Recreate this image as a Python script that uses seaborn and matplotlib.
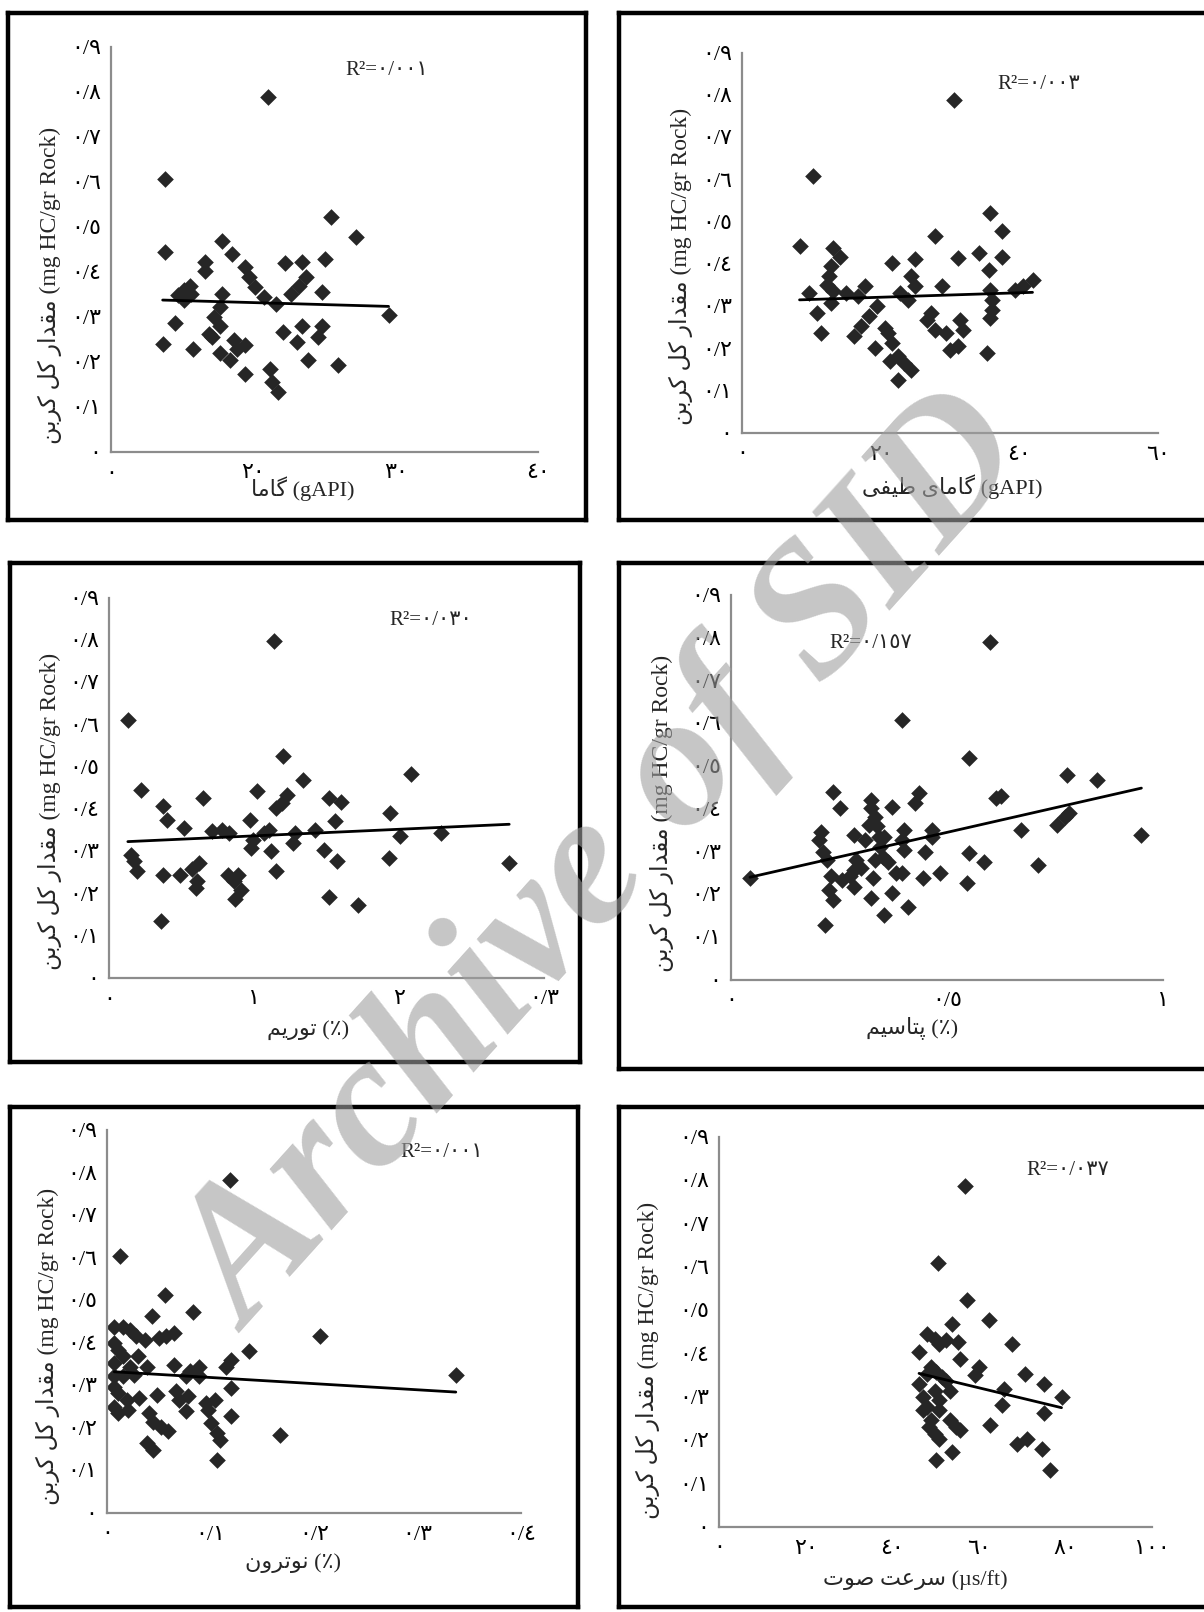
import matplotlib
matplotlib.use('Agg')
import matplotlib.pyplot as plt
import seaborn as sns

sns.set_style('white')
plt.rcParams['font.family'] = ['Liberation Serif', 'DejaVu Sans']

# ---- data (y = total carbon, mg HC/gr Rock) ----
gamma_x = [21.03, 13.77, 13.77, 13.63, 14.52, 15.78, 14.71, 15.11, 15.52, 15.65, 15.11, 16.59, 16.59,
           17.80, 18.47, 19.42, 19.68, 20.09, 20.76, 21.57, 17.80, 17.67, 17.26, 17.67, 17.13, 17.67,
           18.34, 18.61, 19.42, 19.42, 21.16, 21.30, 21.70, 22.10, 22.24, 23.45, 23.72, 23.18, 22.64,
           23.45, 23.05, 23.85, 24.79, 24.53, 24.79, 25.01, 25.47, 27.22, 25.92, 29.50, 16.86, 18.88]
gamma_toc = [0.789, 0.607, 0.444, 0.241, 0.287, 0.230, 0.348, 0.359, 0.370, 0.352, 0.337, 0.422, 0.402,
             0.470, 0.441, 0.411, 0.389, 0.367, 0.344, 0.330, 0.352, 0.322, 0.300, 0.281, 0.256, 0.219,
             0.204, 0.248, 0.237, 0.174, 0.185, 0.156, 0.133, 0.267, 0.419, 0.422, 0.389, 0.370, 0.352,
             0.281, 0.244, 0.204, 0.281, 0.256, 0.356, 0.430, 0.522, 0.478, 0.193, 0.304, 0.263, 0.230]

sgr_x = [30.6, 10.2, 8.3, 13.1, 14.2, 12.8, 12.5, 12.2, 13.1, 12.8, 9.7, 10.8, 11.4, 21.7, 25.0, 24.4,
         25.0, 23.9, 17.8, 16.7, 19.4, 18.3, 17.2, 16.1, 19.2, 20.6, 21.7, 22.5, 21.4, 23.3, 24.4, 22.5,
         21.1, 27.8, 28.9, 26.7, 27.8, 29.4, 31.1, 30.0, 31.4, 31.9, 31.1, 34.2, 35.8, 37.5, 37.5, 35.6,
         35.8, 36.1, 36.1, 35.8, 35.3, 41.9, 40.6, 39.4, 15.0, 22.8, 27.2]
sgr_toc = [0.789, 0.608, 0.442, 0.438, 0.418, 0.395, 0.371, 0.351, 0.336, 0.308, 0.332, 0.284, 0.237,
           0.403, 0.411, 0.371, 0.347, 0.316, 0.347, 0.324, 0.300, 0.276, 0.253, 0.229, 0.201, 0.249,
           0.213, 0.182, 0.170, 0.166, 0.150, 0.126, 0.237, 0.466, 0.347, 0.268, 0.245, 0.237, 0.205,
           0.197, 0.268, 0.245, 0.414, 0.426, 0.521, 0.478, 0.418, 0.387, 0.339, 0.316, 0.292, 0.272,
           0.189, 0.363, 0.347, 0.339, 0.332, 0.332, 0.284]

thorium_x = [1.14, 0.13, 1.20, 0.22, 1.34, 1.02, 0.65, 1.23, 1.19, 1.15, 1.52, 1.60, 2.08, 0.37, 0.40,
             0.52, 0.71, 0.78, 0.83, 0.97, 1.10, 0.99, 0.98, 1.12, 1.28, 1.27, 1.42, 1.56, 1.48, 1.57,
             1.94, 2.01, 2.29, 1.93, 2.76, 0.15, 0.17, 0.19, 0.37, 0.49, 0.57, 0.62, 0.61, 0.60, 0.82,
             0.89, 0.86, 0.91, 0.87, 1.15, 1.52, 1.72, 0.36, 1.07]
thorium_toc = [0.797, 0.612, 0.525, 0.446, 0.470, 0.442, 0.426, 0.434, 0.414, 0.403, 0.426, 0.418, 0.482,
               0.407, 0.375, 0.355, 0.347, 0.351, 0.343, 0.375, 0.351, 0.328, 0.308, 0.300, 0.343, 0.320,
               0.351, 0.371, 0.304, 0.276, 0.391, 0.336, 0.343, 0.284, 0.272, 0.292, 0.276, 0.253, 0.245,
               0.245, 0.257, 0.272, 0.229, 0.213, 0.245, 0.245, 0.229, 0.209, 0.186, 0.253, 0.193, 0.174,
               0.134, 0.343]

potassium_x = [0.599, 0.395, 0.551, 0.777, 0.848, 0.950, 0.044, 0.235, 0.253, 0.209, 0.204, 0.213, 0.222,
               0.231, 0.226, 0.235, 0.218, 0.258, 0.275, 0.284, 0.289, 0.302, 0.284, 0.311, 0.324, 0.324,
               0.333, 0.337, 0.342, 0.346, 0.333, 0.351, 0.364, 0.373, 0.400, 0.395, 0.400, 0.395, 0.382,
               0.329, 0.324, 0.373, 0.355, 0.409, 0.435, 0.426, 0.448, 0.466, 0.444, 0.484, 0.551, 0.586,
               0.546, 0.613, 0.626, 0.671, 0.710, 0.755, 0.773, 0.782, 0.466, 0.320, 0.355, 0.284]
potassium_toc = [0.791, 0.608, 0.518, 0.479, 0.468, 0.339, 0.238, 0.440, 0.401, 0.347, 0.327, 0.300, 0.281,
                 0.242, 0.210, 0.187, 0.129, 0.234, 0.242, 0.257, 0.281, 0.261, 0.339, 0.327, 0.421, 0.401,
                 0.382, 0.359, 0.335, 0.312, 0.281, 0.288, 0.277, 0.405, 0.351, 0.327, 0.304, 0.249, 0.249,
                 0.238, 0.191, 0.203, 0.152, 0.171, 0.436, 0.413, 0.300, 0.351, 0.238, 0.249, 0.296, 0.277,
                 0.226, 0.425, 0.429, 0.351, 0.269, 0.362, 0.382, 0.390, 0.335, 0.362, 0.335, 0.218]

neutron_x = [0.119, 0.013, 0.056, 0.083, 0.043, 0.206, 0.337, 0.137, 0.120, 0.115, 0.167, 0.106, 0.120,
             0.120, 0.007, 0.015, 0.022, 0.028, 0.007, 0.011, 0.015, 0.007, 0.022, 0.030, 0.037, 0.007,
             0.015, 0.026, 0.007, 0.011, 0.019, 0.007, 0.011, 0.020, 0.065, 0.057, 0.050, 0.031, 0.048,
             0.065, 0.067, 0.070, 0.076, 0.080, 0.089, 0.078, 0.076, 0.096, 0.098, 0.104, 0.041, 0.044,
             0.052, 0.059, 0.039, 0.044, 0.100, 0.106, 0.109, 0.039, 0.089]
neutron_toc = [0.782, 0.603, 0.513, 0.473, 0.462, 0.415, 0.325, 0.380, 0.360, 0.344, 0.184, 0.125, 0.227,
               0.293, 0.438, 0.438, 0.430, 0.415, 0.399, 0.383, 0.368, 0.352, 0.344, 0.368, 0.407, 0.321,
               0.321, 0.325, 0.297, 0.282, 0.266, 0.250, 0.235, 0.243, 0.423, 0.415, 0.411, 0.270, 0.278,
               0.348, 0.286, 0.266, 0.321, 0.333, 0.344, 0.274, 0.239, 0.258, 0.243, 0.266, 0.235, 0.215,
               0.203, 0.192, 0.164, 0.149, 0.211, 0.188, 0.172, 0.344, 0.321]

sonic_x = [56.7, 50.5, 57.3, 62.4, 53.8, 67.6, 46.2, 48.0, 49.8, 50.7, 52.4, 55.1, 55.6, 60.0, 59.1, 70.7,
           75.1, 79.1, 75.1, 65.8, 65.3, 62.7, 46.2, 47.1, 48.0, 48.9, 50.2, 51.6, 52.4, 49.8, 50.7, 47.1,
           48.9, 50.7, 48.4, 49.8, 50.7, 53.3, 54.7, 55.6, 68.9, 71.1, 74.7, 50.2, 53.8, 76.4, 53.3, 48.0]
sonic_toc = [0.788, 0.609, 0.523, 0.477, 0.469, 0.423, 0.404, 0.446, 0.435, 0.423, 0.431, 0.427, 0.388,
             0.369, 0.350, 0.354, 0.331, 0.300, 0.262, 0.319, 0.281, 0.235, 0.331, 0.300, 0.354, 0.369,
             0.358, 0.346, 0.338, 0.315, 0.292, 0.269, 0.246, 0.269, 0.231, 0.215, 0.204, 0.246, 0.231,
             0.223, 0.192, 0.204, 0.181, 0.154, 0.173, 0.131, 0.315, 0.277]

y_ticks = [0, 0.1, 0.2, 0.3, 0.4, 0.5, 0.6, 0.7, 0.8, 0.9]
y_tick_labels = ['٠', '٠/١', '٠/٢', '٠/٣', '٠/٤', '٠/٥', '٠/٦', '٠/٧', '٠/٨', '٠/٩']

gamma_ticks = [10, 20, 30, 40]
gamma_tick_labels = ['٠', '٢٠', '٣٠', '٤٠']
sgr_ticks = [0, 20, 40, 60]
sgr_tick_labels = ['٠', '٢٠', '٤٠', '٦٠']
thorium_ticks = [0, 1, 2, 3]
thorium_tick_labels = ['٠', '١', '٢', '٠/٣']
potassium_ticks = [0, 0.5, 1]
potassium_tick_labels = ['٠', '٠/٥', '١']
neutron_ticks = [0, 0.1, 0.2, 0.3, 0.4]
neutron_tick_labels = ['٠', '٠/١', '٠/٢', '٠/٣', '٠/٤']
sonic_ticks = [0, 20, 40, 60, 80, 100]
sonic_tick_labels = ['٠', '٢٠', '٤٠', '٦٠', '٨٠', '١٠٠']

r2_labels = ['R²=٠/٠٠١', 'R²=٠/٠٠٣', 'R²=٠/٠٣٠', 'R²=٠/١٥٧', 'R²=٠/٠٠١', 'R²=٠/٠٣٧']

# ---- minimal Persian shaping (matplotlib has no Arabic shaping / bidi) ----
FORMS = {
    'ا': ('\uFE8D', '\uFE8E', None, None),
    'ب': ('\uFE8F', '\uFE90', '\uFE91', '\uFE92'),
    'پ': ('\uFB56', '\uFB57', '\uFB58', '\uFB59'),
    'ت': ('\uFE95', '\uFE96', '\uFE97', '\uFE98'),
    'د': ('\uFEA9', '\uFEAA', None, None),
    'ر': ('\uFEAD', '\uFEAE', None, None),
    'س': ('\uFEB1', '\uFEB2', '\uFEB3', '\uFEB4'),
    'ص': ('\uFEB9', '\uFEBA', '\uFEBB', '\uFEBC'),
    'ط': ('\uFEC1', '\uFEC2', '\uFEC3', '\uFEC4'),
    'ع': ('\uFEC9', '\uFECA', '\uFECB', '\uFECC'),
    'ف': ('\uFED1', '\uFED2', '\uFED3', '\uFED4'),
    'ق': ('\uFED5', '\uFED6', '\uFED7', '\uFED8'),
    'ک': ('\uFB8E', '\uFB8F', '\uFB90', '\uFB91'),
    'گ': ('\uFB92', '\uFB93', '\uFB94', '\uFB95'),
    'ل': ('\uFEDD', '\uFEDE', '\uFEDF', '\uFEE0'),
    'م': ('\uFEE1', '\uFEE2', '\uFEE3', '\uFEE4'),
    'ن': ('\uFEE5', '\uFEE6', '\uFEE7', '\uFEE8'),
    'و': ('\uFEED', '\uFEEE', None, None),
    'ی': ('\uFBFC', '\uFBFD', '\uFBFE', '\uFBFF'),
}


def fa(text):
    out = []
    for i, ch in enumerate(text):
        if ch not in FORMS:
            out.append(ch)
            continue
        prev = text[i - 1] if i > 0 else None
        nxt = text[i + 1] if i < len(text) - 1 else None
        jp = prev in FORMS and FORMS[prev][2] is not None
        jn = nxt in FORMS and FORMS[ch][2] is not None
        iso, fin, ini, med = FORMS[ch]
        if jp and jn:
            out.append(med)
        elif jp:
            out.append(fin)
        elif jn:
            out.append(ini)
        else:
            out.append(iso)
    return ''.join(out)[::-1]


y_label = fa('مقدار کل کربن') + ' (mg HC/gr Rock)'
x_labels = [fa('گاما') + ' (gAPI)', fa('گامای طیفی') + ' (gAPI)', fa('توریم') + ' (٪)',
            fa('پتاسیم') + ' (٪)', fa('نوترون') + ' (٪)', fa('سرعت صوت') + ' (µs/ft)']

# ---- layout in pixels ----
W, H = 1204, 1612
panels = [
    dict(x=gamma_x, y=gamma_toc, ticks=gamma_ticks, tl=gamma_tick_labels, xlim=(10, 40),
         frame=(8, 13, 586, 520), box=(111, 47, 538, 452), r2=(0.548, 0.943), ylx=-61, xl=(303, 37)),
    dict(x=sgr_x, y=sgr_toc, ticks=sgr_ticks, tl=sgr_tick_labels, xlim=(0, 60),
         frame=(619, 13, 1215, 520), box=(742, 53, 1158, 433), r2=(0.615, 0.916), ylx=-61, xl=(952, 54)),
    dict(x=thorium_x, y=thorium_toc, ticks=thorium_ticks, tl=thorium_tick_labels, xlim=(0, 3),
         frame=(10, 563, 580, 1062), box=(109, 598, 544, 978), r2=(0.644, 0.942), ylx=-59, xl=(308, 52)),
    dict(x=potassium_x, y=potassium_toc, ticks=potassium_ticks, tl=potassium_tick_labels, xlim=(0, 1),
         frame=(619, 563, 1215, 1069), box=(731, 595, 1163, 980), r2=(0.227, 0.875), ylx=-69, xl=(912, 48)),
    dict(x=neutron_x, y=neutron_toc, ticks=neutron_ticks, tl=neutron_tick_labels, xlim=(0, 0.4),
         frame=(10, 1107, 578, 1607), box=(107, 1130, 521, 1513), r2=(0.708, 0.94), ylx=-59, xl=(293, 50)),
    dict(x=sonic_x, y=sonic_toc, ticks=sonic_ticks, tl=sonic_tick_labels, xlim=(0, 100),
         frame=(619, 1107, 1215, 1607), box=(719, 1137, 1152, 1527), r2=(0.711, 0.915), ylx=-71, xl=(915, 53)),
]


def rect(x0, y0, x1, y1):
    return [x0 / W, 1 - y1 / H, (x1 - x0) / W, (y1 - y0) / H]


fig = plt.figure(figsize=(W / 100, H / 100), dpi=100)

for i, p in enumerate(panels):
    fr = fig.add_axes(rect(*p['frame']))
    fr.set_xticks([])
    fr.set_yticks([])
    for s in fr.spines.values():
        s.set_linewidth(3.2)
        s.set_color('black')

    ax = fig.add_axes(rect(*p['box']))
    ax.set_facecolor('none')
    sns.regplot(x=p['x'], y=p['y'], ax=ax, ci=None, marker='D', color='#262626',
                scatter_kws={'s': 72, 'linewidths': 0, 'alpha': 1},
                line_kws={'color': 'black', 'lw': 2})
    ax.set_xlim(*p['xlim'])
    ax.set_ylim(0, 0.9)
    ax.set_xticks(p['ticks'])
    ax.set_xticklabels(p['tl'], fontsize=16)
    ax.set_yticks(y_ticks)
    ax.set_yticklabels(y_tick_labels, fontsize=16)
    sns.despine(ax=ax)
    for side in ['left', 'bottom']:
        ax.spines[side].set_color('#8c8c8c')
        ax.spines[side].set_linewidth(1.6)
    ax.tick_params(axis='both', length=4, width=1.2, color='#8c8c8c', colors='black')
    ax.tick_params(axis='x', pad=5)
    ax.tick_params(axis='y', pad=3)

    x0, y0, x1, y1 = p['box']
    bw, bh = x1 - x0, y1 - y0
    ax.set_ylabel(y_label, fontsize=17, ha='left', va='center')
    ax.yaxis.set_label_coords(p['ylx'] / bw, 0.02)
    ax.set_xlabel(x_labels[i], fontsize=16, va='center')
    ax.xaxis.set_label_coords((p['xl'][0] - x0) / bw, -p['xl'][1] / bh)

    ax.text(p['r2'][0], p['r2'][1], r2_labels[i], transform=ax.transAxes,
            fontsize=15, ha='left', va='center')

fig.text(0.505, 0.463, 'Archive of SID', rotation=48, fontsize=136, fontweight='bold',
         fontstyle='italic', color='#a0a0a0', alpha=0.6, ha='center', va='center', zorder=100)

fig.savefig('out.png', dpi=100)
